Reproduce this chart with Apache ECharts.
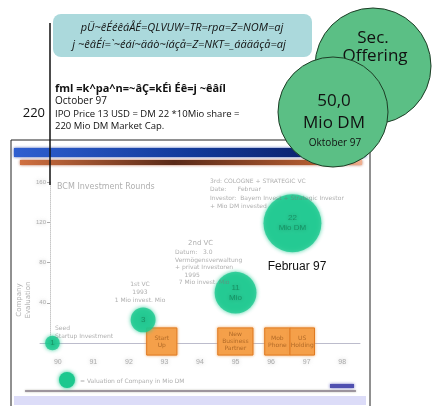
<!DOCTYPE html>
<html>
<head>
<meta charset="utf-8">
<script src="https://cdn.jsdelivr.net/npm/echarts@6/dist/echarts.min.js"></script>
<style>
  html, body { margin: 0; padding: 0; background: #fff; }
  #main { width: 433px; height: 406px; }
</style>
</head>
<body>
<div id="main"></div>
<script>
// inner slide data: financing rounds of the company
const years = [90, 91, 92, 93, 94, 95, 96, 97, 98];
const rounds = ['Seed', '1st VC', '2nd VC', '3rd VC'];
const roundDate = [89.85, 92.4, 95.0, 96.6];
const evaluation = [0, 23, 50, 119];
const valuation = [1, 3.5, 11, 22];        // Mio DM
const valuationText = ['1', '3', '11\nMio', '22\nMio DM'];
const yTicks = [40, 80, 120, 160];
const milestones = ['Start\nUp', 'New\nBusiness\nPartner', 'Mob\nPhone', 'US\nHolding'];
const mileFrom = [92.5, 94.5, 95.82, 96.53];
const mileTo = [93.35, 95.49, 96.53, 97.22];

const dom = document.getElementById('main');
const myChart = echarts.init(dom);

// the slide is a blurry scan: soft grey text
const blurText = (s) => Object.assign({
  fill: 'rgba(120,120,120,0.6)',
  shadowBlur: 4,
  shadowColor: 'rgba(130,130,130,1)',
  font: '7px "DejaVu Sans"'
}, s);

const sans = '"Open Sans"';
const green = '#5bbf85';
const bubble = '#1cc88e';

const option = {
  backgroundColor: '#fff',
  animation: false,
  grid: { left: 40, right: 73, top: 182, bottom: 63 },
  xAxis: {
    type: 'value',
    min: 89.5,
    max: 98.5,
    interval: 0.5,
    axisLine: { lineStyle: { color: '#bcbccc', width: 1 } },
    axisTick: { show: false },
    splitLine: { show: false },
    axisLabel: {
      margin: 16,
      color: 'rgba(120,120,120,0.6)',
      fontSize: 7,
      textShadowBlur: 4,
      textShadowColor: '#999',
      formatter: v => (years.indexOf(v) >= 0 ? String(v) : '')
    }
  },
  yAxis: {
    type: 'value',
    min: 0,
    max: 160,
    interval: 40,
    offset: -10,
    axisLine: { show: true, lineStyle: { color: '#c8c8c8', type: 'dotted' } },
    axisTick: { show: true, length: 3, lineStyle: { color: '#aaa' } },
    splitLine: { show: false },
    axisLabel: {
      margin: 4,
      color: 'rgba(120,120,120,0.6)',
      fontSize: 6,
      textShadowBlur: 4,
      textShadowColor: '#999',
      formatter: v => (yTicks.indexOf(v) >= 0 ? String(v) : '')
    }
  },
  series: [
    {
      name: 'milestones',
      type: 'custom',
      clip: false,
      z: 3,
      data: milestones.map((m, i) => [mileFrom[i], mileTo[i], m]),
      renderItem: function (params, api) {
        const p0 = api.coord([api.value(0), 15]);
        const p1 = api.coord([api.value(1), -12]);
        const txt = milestones[params.dataIndex];
        return {
          type: 'group',
          children: [{
            type: 'rect',
            shape: { x: p0[0], y: p0[1], width: p1[0] - p0[0], height: p1[1] - p0[1] },
            style: { fill: '#f5a04a', stroke: '#e07a20', lineWidth: 1, shadowBlur: 3, shadowColor: '#f0a050' }
          }, {
            type: 'text',
            style: blurText({
              text: txt,
              x: (p0[0] + p1[0]) / 2,
              y: (p0[1] + p1[1]) / 2,
              align: 'center',
              verticalAlign: 'middle',
              font: '6px "DejaVu Sans"',
              lineHeight: 7,
              fill: 'rgba(120,60,10,0.55)',
              shadowColor: 'rgba(150,80,20,0.9)'
            })
          }]
        };
      }
    },
    {
      name: 'rounds',
      type: 'scatter',
      z: 4,
      data: rounds.map((r, i) => [roundDate[i], evaluation[i], valuation[i]]),
      symbolSize: d => 11.7 * Math.sqrt(d[2]) + 3,
      itemStyle: { color: bubble, shadowBlur: 4, shadowColor: bubble },
      label: {
        show: true,
        position: 'inside',
        formatter: p => valuationText[p.dataIndex],
        color: 'rgba(10,90,55,0.6)',
        fontSize: 8,
        lineHeight: 10,
        textShadowBlur: 4,
        textShadowColor: 'rgba(10,90,55,0.9)'
      }
    }
  ],
  graphic: [
    // slide frame
    { type: 'rect', z: -10, shape: { x: 11, y: 140, width: 359, height: 280 },
      style: { fill: '#fff', stroke: '#222', lineWidth: 1 } },
    { type: 'rect', z: -9, shape: { x: 14, y: 148, width: 352, height: 9 },
      style: { fill: new echarts.graphic.LinearGradient(0, 0, 1, 0, [
        { offset: 0, color: '#2f5fd0' }, { offset: 0.5, color: '#123a9a' },
        { offset: 0.9, color: '#0c1e66' }, { offset: 1, color: '#8aa0e0' }]),
        shadowBlur: 3, shadowColor: '#3050b0' } },
    { type: 'rect', z: -9, shape: { x: 20, y: 160, width: 342, height: 5 },
      style: { fill: new echarts.graphic.LinearGradient(0, 0, 1, 0, [
        { offset: 0, color: '#d07040' }, { offset: 0.45, color: '#5a2a18' },
        { offset: 0.85, color: '#b05a30' }, { offset: 1, color: '#f0b090' }]),
        shadowBlur: 3, shadowColor: '#b06040' } },
    { type: 'line', z: -9, shape: { x1: 25, y1: 391, x2: 356, y2: 391 },
      style: { stroke: '#6a5a70', lineWidth: 1.2, shadowBlur: 2, shadowColor: '#776' } },
    { type: 'rect', z: -9, shape: { x: 14, y: 396, width: 352, height: 9 },
      style: { fill: '#dcdcf8' } },
    { type: 'rect', z: -9, shape: { x: 330, y: 384, width: 24, height: 4 },
      style: { fill: '#5050b0', shadowBlur: 3, shadowColor: '#6060c0' } },

    // slide texts
    { type: 'text', z: 5, style: blurText({ text: 'BCM Investment Rounds', x: 57, y: 183, font: '8px "DejaVu Sans"' }) },
    { type: 'text', z: 5, style: blurText({ text: '3rd: COLOGNE + STRATEGIC VC\nDate:      Februar\nInvestor:  Bayern Invest + Strategic Investor\n+ Mio DM invested', x: 210, y: 177, font: '6px "DejaVu Sans"', lineHeight: 8.5 }) },
    { type: 'text', z: 5, style: blurText({ text: '2nd VC', x: 188, y: 240, font: '7px "DejaVu Sans"' }) },
    { type: 'text', z: 5, style: blurText({ text: 'Datum:   3.0\nVermögensverwaltung\n+ privat Investoren\n     1995\n  7 Mio invest. Mio', x: 175, y: 249, font: '6px "DejaVu Sans"', lineHeight: 7.5 }) },
    { type: 'text', z: 5, style: blurText({ text: '1st VC\n1993\n1 Mio invest. Mio', x: 140, y: 280, align: 'center', font: '6px "DejaVu Sans"', lineHeight: 8 }) },
    { type: 'text', z: 5, style: blurText({ text: 'Seed\nStartup Investment', x: 55, y: 324, font: '6px "DejaVu Sans"', lineHeight: 8 }) },
    { type: 'text', z: 5, rotation: Math.PI / 2, x: 24, y: 300, style: blurText({ text: 'Company\nEvaluation', x: 0, y: 0, align: 'center', verticalAlign: 'middle', font: '7px "DejaVu Sans"', lineHeight: 9 }) },
    { type: 'circle', z: 5, shape: { cx: 67, cy: 380, r: 8 }, style: { fill: bubble, shadowBlur: 4, shadowColor: bubble } },
    { type: 'text', z: 5, style: blurText({ text: '= Valuation of Company in Mio DM', x: 80, y: 378, font: '6px "DejaVu Sans"' }) },
    { type: 'text', z: 6, style: { text: 'Februar 97', x: 297, y: 267, align: 'center', verticalAlign: 'middle', fill: '#111', font: '12px "Liberation Sans"' } },

    // annotation outside the slide
    { type: 'line', z: 6, shape: { x1: 50, y1: 23, x2: 50, y2: 185 },
      style: { stroke: '#111', lineWidth: 1.5 } },
    { type: 'text', z: 6, style: { text: '220', x: 45, y: 113, align: 'right', verticalAlign: 'middle', fill: '#111', font: '13px ' + sans } },
    { type: 'rect', z: 6, shape: { x: 53, y: 14, width: 259, height: 43, r: 8 },
      style: { fill: '#abd9dc' } },
    { type: 'text', z: 7, style: { text: 'pÜ~êÉéêáÅÉ=QLVUW=TR=rpa=Z=NOM=aj', x: 182, y: 28, align: 'center', verticalAlign: 'middle', fill: '#111', font: 'italic 11px ' + sans } },
    { type: 'text', z: 7, style: { text: 'j ~êâÉí=`~éáí~äáò~íáçå=Z=NKT=_áääáçå=aj', x: 179, y: 45, align: 'center', verticalAlign: 'middle', fill: '#111', font: 'italic 11px ' + sans } },
    { type: 'text', z: 7, style: { text: 'fml =k^pa^n=~âÇ=kÉì Éê=j ~êâíl', x: 55, y: 89, verticalAlign: 'middle', fill: '#111', font: 'bold 11px ' + sans } },
    { type: 'text', z: 7, style: { text: 'October 97', x: 55, y: 101, verticalAlign: 'middle', fill: '#111', font: '10px ' + sans } },
    { type: 'text', z: 7, style: { text: 'IPO Price 13 USD = DM 22 *10Mio share =', x: 55, y: 114, verticalAlign: 'middle', fill: '#111', font: '9.5px ' + sans } },
    { type: 'text', z: 7, style: { text: '220 Mio DM Market Cap.', x: 55, y: 126, verticalAlign: 'middle', fill: '#111', font: '9.5px ' + sans } },

    { type: 'circle', z: 8, shape: { cx: 373, cy: 66, r: 58 }, style: { fill: green, stroke: '#1d3d26', lineWidth: 1 } },
    { type: 'text', z: 9, style: { text: 'Sec.', x: 373, y: 38, align: 'center', verticalAlign: 'middle', fill: '#111', font: '17px ' + sans } },
    { type: 'text', z: 9, style: { text: 'Offering', x: 375, y: 56, align: 'center', verticalAlign: 'middle', fill: '#111', font: '17px ' + sans } },
    { type: 'circle', z: 10, shape: { cx: 333, cy: 112, r: 55 }, style: { fill: green, stroke: '#1d3d26', lineWidth: 1 } },
    { type: 'text', z: 11, style: { text: '50,0', x: 334, y: 101, align: 'center', verticalAlign: 'middle', fill: '#111', font: '17px ' + sans } },
    { type: 'text', z: 11, style: { text: 'Mio DM', x: 334, y: 123, align: 'center', verticalAlign: 'middle', fill: '#111', font: '17px ' + sans } },
    { type: 'text', z: 11, style: { text: 'Oktober 97', x: 335, y: 143, align: 'center', verticalAlign: 'middle', fill: '#111', font: '10px ' + sans } }
  ]
};

myChart.setOption(option, true);
</script>
</body>
</html>
